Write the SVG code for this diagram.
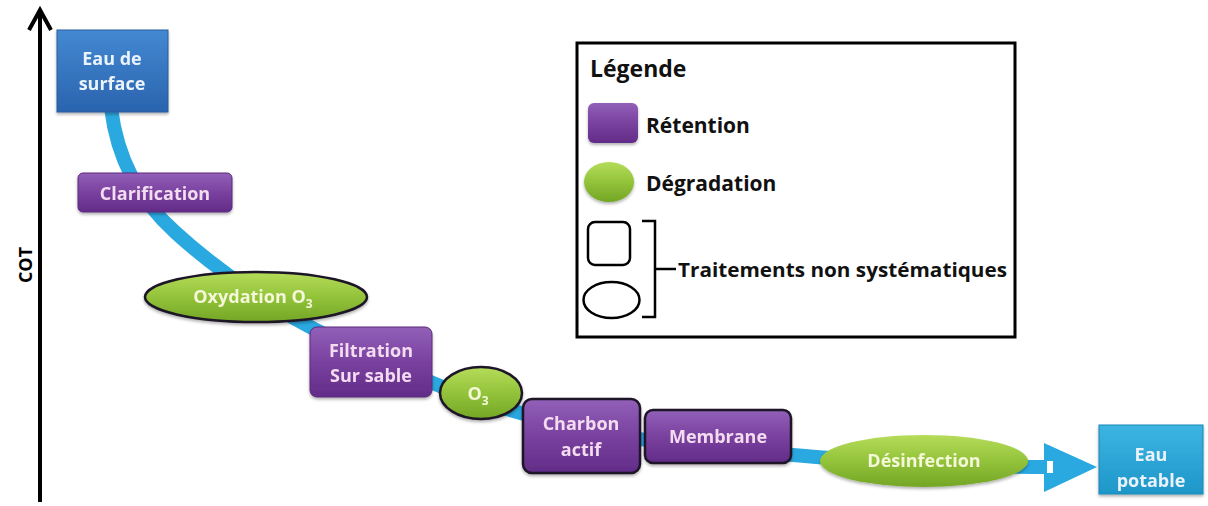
<svg xmlns="http://www.w3.org/2000/svg" width="1208" height="506" viewBox="0 0 1208 506">
<defs>
<linearGradient id="gPurple" x1="0" y1="0" x2="0" y2="1"><stop offset="0" stop-color="#9160b8"/><stop offset="0.5" stop-color="#7a419f"/><stop offset="1" stop-color="#622c88"/></linearGradient>
<linearGradient id="gGreen" x1="0" y1="0" x2="0" y2="1"><stop offset="0" stop-color="#b5dc5a"/><stop offset="0.5" stop-color="#93c33a"/><stop offset="1" stop-color="#74a626"/></linearGradient>
<linearGradient id="gBlue" x1="0" y1="0" x2="0" y2="1"><stop offset="0" stop-color="#4389d2"/><stop offset="1" stop-color="#2a63ae"/></linearGradient>
<linearGradient id="gCyan" x1="0" y1="0" x2="0" y2="1"><stop offset="0" stop-color="#3cb5e2"/><stop offset="1" stop-color="#1e96c9"/></linearGradient>
<filter id="sh" x="-10%" y="-10%" width="120%" height="130%"><feDropShadow dx="0" dy="2" stdDeviation="1.5" flood-color="#000" flood-opacity="0.3"/></filter>
</defs>
<style>
.lbl{font-family:"Open Sans","Liberation Sans",sans-serif;font-weight:bold;font-size:18px;text-anchor:middle}
.pl{fill:#f3dcef}
.gl{fill:#f4f7d8}
.bl{fill:#eaf2fb}
.dark{stroke:#1e1428;stroke-width:2.5}
.leg{font-family:"Open Sans","Liberation Sans",sans-serif;font-weight:bold;fill:#111}
</style>
<g id="axis">
<line x1="40" y1="502" x2="40" y2="11" stroke="#000" stroke-width="4"/>
<polyline points="29,30 40,10 51,30" fill="none" stroke="#000" stroke-width="4"/>
<text transform="translate(32,265) rotate(-90)" font-family="'Open Sans','Liberation Sans',sans-serif" font-weight="bold" font-size="18" text-anchor="middle" fill="#000">COT</text>
</g>
<g id="connectors">
<path d="M 111 108 C 118 165, 145 205, 175 232 C 200 255, 240 285, 280 310 C 330 340, 400 370, 450 390 C 490 405, 540 420, 600 432 C 680 448, 760 452, 830 458 C 900 463, 980 467, 1047 467" fill="none" stroke="#2aa8e0" stroke-width="14"/>
<polygon points="1044,443 1097,467 1044,492" fill="#2aa8e0"/>
<rect x="1047" y="461" width="6" height="12" fill="#fff"/>
</g>
<g id="eau-de-surface" filter="url(#sh)">
<rect x="57" y="30" width="111" height="82" fill="url(#gBlue)" stroke="#2a5c9c" stroke-width="1"/>
<text class="lbl bl" x="112" y="65">Eau de</text>
<text class="lbl bl" x="112" y="90">surface</text>
</g>
<g id="clarification" filter="url(#sh)">
<rect x="78" y="173" width="154" height="39" rx="5" fill="url(#gPurple)" stroke="#5a2a7a" stroke-width="1"/>
<text class="lbl pl" x="155" y="200">Clarification</text>
</g>
<g id="oxydation" filter="url(#sh)">
<ellipse cx="256" cy="297" rx="111" ry="25" fill="url(#gGreen)" class="dark"/>
<text class="lbl gl" x="253" y="303">Oxydation O<tspan font-size="12" dy="5">3</tspan></text>
</g>
<g id="filtration" filter="url(#sh)">
<rect x="310" y="327" width="122" height="70" rx="7" fill="url(#gPurple)" stroke="#5a2a7a" stroke-width="1"/>
<text class="lbl pl" x="371" y="357">Filtration</text>
<text class="lbl pl" x="371" y="382">Sur sable</text>
</g>
<g id="o3" filter="url(#sh)">
<ellipse cx="481" cy="393" rx="41" ry="26" fill="url(#gGreen)" class="dark"/>
<text class="lbl gl" x="478" y="400">O<tspan font-size="12" dy="5">3</tspan></text>
</g>
<g id="charbon" filter="url(#sh)">
<rect x="523" y="399" width="117" height="74" rx="9" fill="url(#gPurple)" class="dark"/>
<text class="lbl pl" x="581" y="430">Charbon</text>
<text class="lbl pl" x="581" y="456">actif</text>
</g>
<g id="membrane" filter="url(#sh)">
<rect x="645" y="410" width="146" height="53" rx="8" fill="url(#gPurple)" class="dark"/>
<text class="lbl pl" x="718" y="443">Membrane</text>
</g>
<g id="desinfection" filter="url(#sh)">
<ellipse cx="924" cy="461" rx="104" ry="26" fill="url(#gGreen)"/>
<text class="lbl gl" x="924" y="467">Désinfection</text>
</g>
<g id="eau-potable" filter="url(#sh)">
<rect x="1099" y="425" width="104" height="69" fill="url(#gCyan)" stroke="#1b88b8" stroke-width="1"/>
<text class="lbl bl" x="1151" y="461">Eau</text>
<text class="lbl bl" x="1151" y="487">potable</text>
</g>
<g id="legend">
<rect x="577" y="43" width="438" height="294" fill="#fff" stroke="#000" stroke-width="3"/>
<text class="leg" x="590" y="77" font-size="23">Légende</text>
<rect x="588" y="103" width="50" height="40" rx="6" fill="url(#gPurple)" filter="url(#sh)"/>
<text class="leg" x="646" y="133" font-size="21">Rétention</text>
<ellipse cx="609" cy="182" rx="25" ry="20" fill="url(#gGreen)" filter="url(#sh)"/>
<text class="leg" x="646" y="191" font-size="21">Dégradation</text>
<rect x="588" y="222" width="42" height="43" rx="7" fill="none" stroke="#000" stroke-width="2.5"/>
<ellipse cx="611.5" cy="300" rx="28" ry="18" fill="none" stroke="#000" stroke-width="2.5"/>
<polyline points="642,221 655,221 655,317 642,317" fill="none" stroke="#000" stroke-width="2.5"/>
<line x1="655" y1="269" x2="676" y2="269" stroke="#000" stroke-width="2.5"/>
<text class="leg" x="678" y="277" font-size="20" textLength="329" lengthAdjust="spacingAndGlyphs">Traitements non systématiques</text>
</g>
</svg>
